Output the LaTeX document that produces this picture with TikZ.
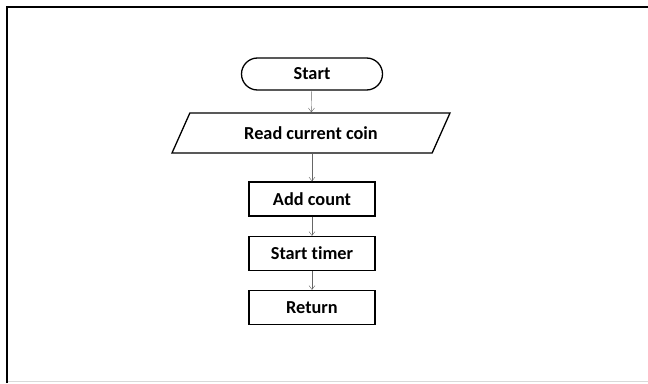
\documentclass[tikz,border=0pt]{standalone}
\usepackage{fontspec}
\setmainfont[Ligatures=CommonOff]{Carlito}
\usetikzlibrary{shapes.geometric,arrows.meta}
\tikzset{
  term/.style={draw,line width=1.3pt,rounded corners=16pt,minimum width=141pt,minimum height=32pt},
  io/.style={draw,line width=1.3pt,trapezium,trapezium left angle=36,trapezium right angle=144,
    trapezium stretches body,minimum width=278pt,minimum height=40pt,inner sep=0pt},
  proc/.style={draw,line width=1.3pt,minimum width=126pt,minimum height=34pt},
  flow/.style={draw=gray!80!black,-{Straight Barb[length=4pt,width=6pt]}}
}
\begin{document}
\begin{tikzpicture}[x=1pt,y=-1pt,font=\fontsize{18.3}{21}\selectfont\bfseries]
            \useasboundingbox (0,0) rectangle (648,383);
            % frame
            \draw [line width=2pt] (7,383) -- (7,7) -- (648,7);
            \draw [gray!30,line width=1.5pt] (8,381.5) -- (648,381.5);
            \node [term] (start) at (312,74) {Start};
            \node [io] (read) at (311,133) {Read current coin};
            \node [proc] (add) at (312,199) {Add count};
            \node [proc] (timer) at (312,253.5) {Start timer};
            \node [proc] (ret) at (312,307.5) {Return};
            \draw [flow] (start) -- (read);
            \draw [flow] (read.south -| add.north) -- (add);
            \draw [flow] (add) -- (timer);
            \draw [flow] (timer) -- (ret);
        \end{tikzpicture}
\end{document}
